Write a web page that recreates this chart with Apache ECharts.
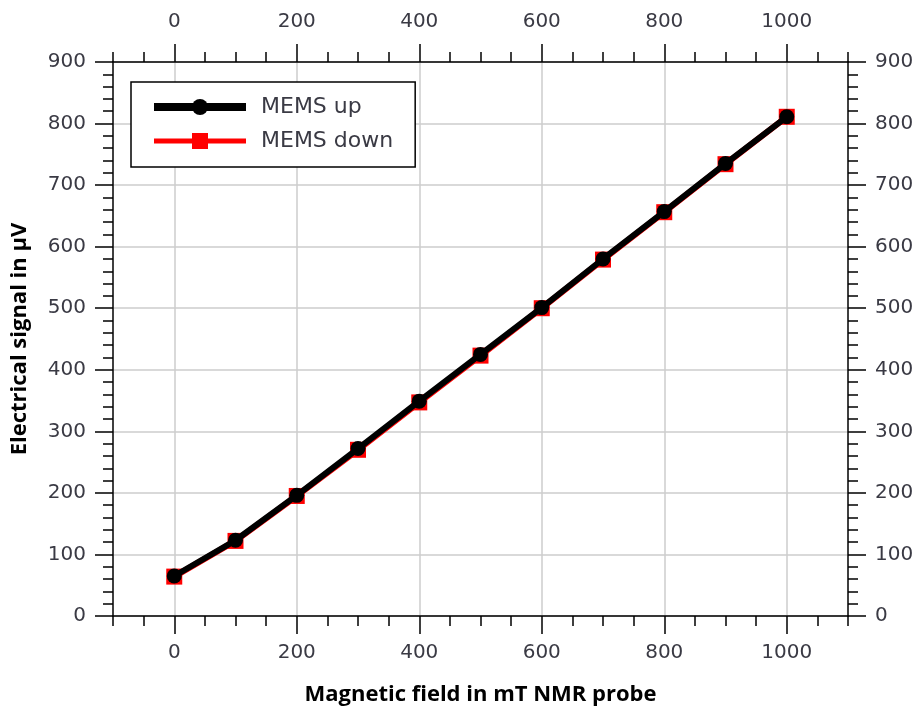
<!DOCTYPE html>
<html>
<head>
<meta charset="utf-8">
<script src="https://cdn.jsdelivr.net/npm/echarts@6/dist/echarts.min.js"></script>
<style>
html,body{margin:0;padding:0;background:#fff;}
#chart{width:921px;height:711px;}
</style>
</head>
<body>
<div id="chart"></div>
<script>
const fieldMT = [0, 100, 200, 300, 400, 500, 600, 700, 800, 900, 1000];
const memsUp = [65, 123, 196, 272, 349, 425, 501, 580, 657, 735, 811];
const memsDown = [64, 122, 195, 270, 347, 423, 500, 579, 656, 734, 811];
const xMajorTicks = [0, 200, 400, 600, 800, 1000];
const xName = 'Magnetic field in mT NMR probe';
const yName = 'Electrical signal in µV';

const labelFont = 'DejaVu Sans';
const titleFont = 'Open Sans';
const labelColor = '#3a3a44';
const plain = v => String(v);

function majorX(pos) {
  return {
    type: 'value', position: pos, min: -100, max: 1100, gridIndex: 0,
    axisLine: { show: true, onZero: false, lineStyle: { color: '#000', width: 1.5 } },
    axisTick: { show: true, inside: false, length: 18, customValues: xMajorTicks, lineStyle: { color: '#000', width: 1.5 } },
    axisLabel: { show: true, customValues: xMajorTicks, formatter: plain, margin: pos === 'bottom' ? 27 : 30, fontFamily: labelFont, fontSize: 20, color: labelColor },
    splitLine: { show: pos === 'bottom', lineStyle: { color: '#cccccc', width: 1.5 } },
    minorTick: { show: false }
  };
}
function minorX(pos) {
  return {
    type: 'value', position: pos, min: -100, max: 1100, interval: 50, gridIndex: 0,
    axisLine: { show: false, onZero: false },
    axisTick: { show: true, inside: false, length: 10, lineStyle: { color: '#000', width: 1.5 } },
    axisLabel: { show: false },
    splitLine: { show: false }
  };
}
function majorY(pos) {
  return {
    type: 'value', position: pos, min: 0, max: 900, interval: 100, gridIndex: 0,
    axisLine: { show: true, onZero: false, lineStyle: { color: '#000', width: 1.5 } },
    axisTick: { show: true, inside: false, length: 18, lineStyle: { color: '#000', width: 1.5 } },
    axisLabel: { show: true, formatter: plain, margin: 27, fontFamily: labelFont, fontSize: 20, color: labelColor },
    splitLine: { show: pos === 'left', lineStyle: { color: '#cccccc', width: 1.5 } }
  };
}
function minorY(pos) {
  return {
    type: 'value', position: pos, min: 0, max: 900, interval: 20, gridIndex: 0,
    axisLine: { show: false, onZero: false },
    axisTick: { show: true, inside: false, length: 10, lineStyle: { color: '#000', width: 1.5 } },
    axisLabel: { show: false },
    splitLine: { show: false }
  };
}

const xb = majorX('bottom');
xb.name = xName;
xb.nameLocation = 'middle';
xb.nameGap = 68;
xb.nameTextStyle = { fontFamily: titleFont, fontWeight: 'bold', fontSize: 22, color: '#000' };
const yl = majorY('left');
yl.name = yName;
yl.nameLocation = 'middle';
yl.nameGap = 82;
yl.nameTextStyle = { fontFamily: titleFont, fontWeight: 'bold', fontSize: 22, color: '#000' };

const option = {
  backgroundColor: '#fff',
  animation: false,
  grid: { left: 113, right: 73, top: 62, bottom: 94, containLabel: false },
  xAxis: [xb, minorX('bottom'), majorX('top'), minorX('top')],
  yAxis: [yl, minorY('left'), majorY('right'), minorY('right')],
  legend: {
    orient: 'vertical',
    left: 131, top: 82,
    padding: [14, 22, 15, 19],
    itemGap: 12,
    itemWidth: 92, itemHeight: 20,
    borderColor: '#000', borderWidth: 1.5, borderRadius: 0,
    backgroundColor: '#fff',
    textStyle: { fontFamily: labelFont, fontSize: 22, color: labelColor, padding: [0, 0, 0, 10] },
    data: [
      { name: 'MEMS up', lineStyle: { width: 8, color: '#000' } },
      { name: 'MEMS down', lineStyle: { width: 5, color: '#ff0000' } }
    ]
  },
  series: [
    {
      name: 'MEMS up', type: 'line', xAxisIndex: 0, yAxisIndex: 0, z: 4,
      data: fieldMT.map((x, i) => [x, memsUp[i]]),
      symbol: 'circle', symbolSize: 15,
      lineStyle: { color: '#000', width: 6 },
      itemStyle: { color: '#000' }
    },
    {
      name: 'MEMS down', type: 'line', xAxisIndex: 0, yAxisIndex: 0, z: 3,
      data: fieldMT.map((x, i) => [x, memsDown[i]]),
      symbol: 'rect', symbolSize: 16,
      lineStyle: { color: '#ff0000', width: 6 },
      itemStyle: { color: '#ff0000' }
    }
  ]
};
const chart = echarts.init(document.getElementById('chart'), null, { renderer: 'canvas' });
chart.setOption(option);
</script>
</body>
</html>
